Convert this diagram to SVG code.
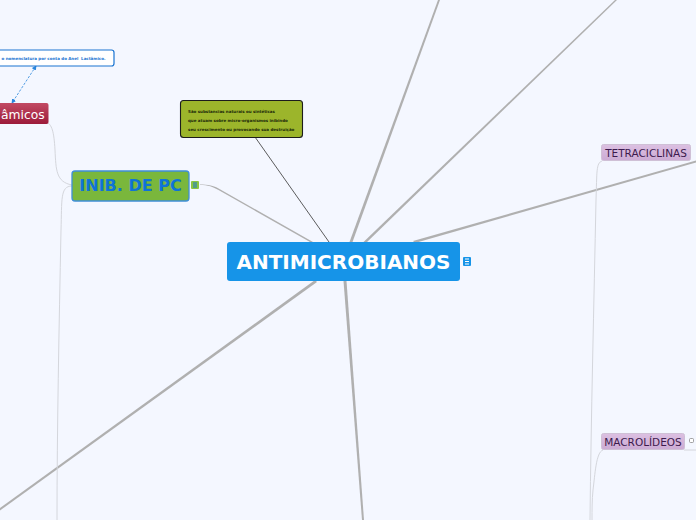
<svg xmlns="http://www.w3.org/2000/svg" width="696" height="520" viewBox="0 0 696 520">
<defs>
<style>
text{font-family:"DejaVu Sans","Verdana",sans-serif}
.main{fill:#b0b0b0;stroke:none}
.thin{fill:none;stroke:#d4d6dc;stroke-width:1}
.pur{fill:#d3b3db;stroke:#cfc0d6;stroke-width:1}
.ptx{font-size:10.5px;fill:#3d1a4e}
.note{font-size:4px;font-weight:bold;fill:#1d2a0a}
</style>
<linearGradient id="red" x1="0" y1="0" x2="0" y2="1"><stop offset="0" stop-color="#c24a63"/><stop offset="1" stop-color="#9c1b3a"/></linearGradient>
<linearGradient id="pg" x1="0" y1="0" x2="0" y2="1"><stop offset="0" stop-color="#dcc0e2"/><stop offset="1" stop-color="#ccabd4"/></linearGradient>
<marker id="ar" viewBox="0 0 6 6" refX="5" refY="3" markerWidth="6" markerHeight="6" orient="auto-start-reverse"><path d="M0 0L6 3L0 6z" fill="#2a86dc"/></marker>
</defs>
<rect width="696" height="520" fill="#f4f7ff"/>
<g id="connectors">
<path class="main" d="M349.500 242L438 0L440 0L352.500 242z"/>
<path class="main" d="M363.500 242L615 0L617 0L366 243z"/>
<path class="main" d="M413 241L696 160.500L696 162.500L415 243z"/>
<path class="main" d="M343.500 281L362 520L364 520L346.500 281z"/>
<path class="main" d="M315 280L0 508L0 510.500L317 282z"/>
<path class="main" d="M310 242L222 192C212 186 208 185 200 185L200 184.600C208 184.600 213 185 223 191L313 242z"/>
<path d="M329 242L255 137" fill="none" stroke="#4a4a4a" stroke-width="0.9"/>
<path class="thin" d="M72 185C56 182 56 170 55 150C54 132 52 124 46 122"/>
<path class="thin" d="M72 186C60 186 62 200 61 230C59 330 57 430 57 520"/>
<path class="thin" d="M602 161C596 163 597 172 596 200C594 300 591 420 590 520"/>
<path class="thin" d="M603 450C596 452 595 475 593 490C592 500 592 510 592 520"/>
<path class="thin" d="M684 450L696 450"/>
<path d="M36 66L12 103" fill="none" stroke="#2a86dc" stroke-width="0.8" stroke-dasharray="2.500 1.500" marker-start="url(#ar)" marker-end="url(#ar)"/>
</g>
<g id="node-lactam">
<rect x="-12" y="50" width="126" height="16" rx="2.500" fill="#fff" stroke="#1a74d2" stroke-width="1.200"/>
<text x="105.500" y="59.500" text-anchor="end" font-size="4" font-weight="bold" fill="#1a74d2">o nomenclatura por conta do Anel&#160; Lactâmico.</text>
</g>
<g id="node-dinamicos">
<rect x="-30" y="103" width="78.500" height="21" rx="2" fill="url(#red)"/>
<text x="1" y="118.500" font-size="12.300" fill="#fff">âmicos</text>
</g>
<g id="node-note">
<rect x="180.500" y="100.500" width="122" height="37" rx="3" fill="#9cb52b" stroke="#1c1c1c" stroke-width="1.100"/>
<text class="note" x="188" y="112.500">São substancias naturais ou sintéticas</text>
<text class="note" x="188" y="121.500">que atuam sobre micro-organismos inibindo</text>
<text class="note" x="188" y="130.500">seu crescimento ou provocando sua destruição</text>
</g>
<g id="node-inib">
<rect x="72" y="171" width="117" height="30" rx="3" fill="#7ab73c" stroke="#3f8fd8" stroke-width="1.300"/>
<text x="130.500" y="191" text-anchor="middle" font-size="16" font-weight="bold" fill="#0f73d8">INIB. DE PC</text>
<rect x="191" y="181" width="8" height="8" rx="1" fill="#8cc63f"/>
<path d="M193 183h4M193 185h4M193 187h4" stroke="#1a74d2" stroke-width="1"/>
</g>
<g id="node-root">
<rect x="227" y="242" width="233" height="39" rx="3" fill="#1694e8"/>
<text x="343.500" y="268.500" text-anchor="middle" font-size="20" font-weight="bold" fill="#fff">ANTIMICROBIANOS</text>
<rect x="463" y="257" width="8" height="9" rx="1" fill="#1694e8"/>
<path d="M465 259h4M465 261.500h4M465 264h4" stroke="#fff" stroke-width="1"/>
</g>
<g id="node-tetra">
<rect class="pur" x="601.500" y="144.500" width="89" height="16" rx="2" style="fill:url(#pg)"/>
<text class="ptx" x="646" y="157" text-anchor="middle">TETRACICLINAS</text>
</g>
<g id="node-macro">
<rect class="pur" x="601.500" y="433.500" width="83" height="16" rx="2" style="fill:url(#pg)"/>
<text class="ptx" x="643" y="446" text-anchor="middle">MACROLÍDEOS</text>
<rect x="689.500" y="438.500" width="4" height="4" rx="1" fill="#fff" stroke="#8a8a8a" stroke-width="0.800"/>
</g>
</svg>
